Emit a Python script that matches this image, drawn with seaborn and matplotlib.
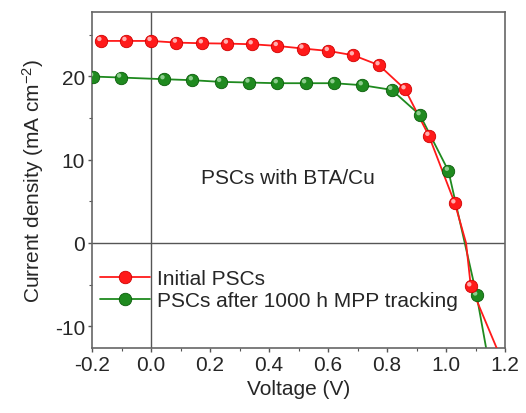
import matplotlib
matplotlib.use("Agg")
import matplotlib.pyplot as plt
import matplotlib.transforms as mtrans
from matplotlib.lines import Line2D
import seaborn as sns
import numpy as np

# ---- data ----
red_v = [-0.17, -0.085, 0.0, 0.086, 0.174, 0.259, 0.343, 0.428, 0.515, 0.601,
         0.686, 0.773, 0.861, 0.942, 1.03, 1.084]
red_j = [24.23, 24.23, 24.23, 24.03, 23.95, 23.91, 23.83, 23.63, 23.32, 23.03,
         22.51, 21.32, 18.44, 12.85, 4.75, -5.2]
red_line_v = red_v[:15] + [1.068] + red_v[15:] + [1.18]
red_line_j = red_j[:15] + [0.0] + red_j[15:] + [-13.3]

green_v = [-0.198, -0.103, 0.044, 0.14, 0.236, 0.332, 0.428, 0.524, 0.62, 0.716,
           0.816, 0.912, 1.008, 1.104]
green_j = [19.96, 19.84, 19.64, 19.52, 19.32, 19.24, 19.16, 19.16, 19.16, 18.92,
           18.36, 15.33, 8.66, -6.3]
green_line_v = green_v + [1.14]
green_line_j = green_j + [-13.4]

labels = ["Initial PSCs", "PSCs after 1000 h MPP tracking"]
annotation = "PSCs with BTA/Cu"
xticks = [-0.2, 0.0, 0.2, 0.4, 0.6, 0.8, 1.0, 1.2]
yticks = [-10, 0, 10, 20]

sns.set_style("ticks")
plt.rcParams["font.family"] = ["Liberation Sans", "DejaVu Sans"]
plt.rcParams["mathtext.fontset"] = "custom"
plt.rcParams["mathtext.rm"] = "Liberation Sans"
plt.rcParams["mathtext.it"] = "Liberation Sans"
plt.rcParams["axes.unicode_minus"] = False

FS = 15
fig = plt.figure(figsize=(5.26, 4.14), dpi=100)
ax = fig.add_axes([92 / 526, 1 - 349 / 414, 413 / 526, 336 / 414])

RED, RED_DARK, RED_HI = "#ff1a1a", "#d00000", "#ffc0c0"
GRN, GRN_DARK, GRN_HI = "#1f8a1f", "#0a5c0a", "#9ad49a"

ax.axhline(0, color="#555555", lw=1.0, zorder=1)
ax.axvline(0, color="#555555", lw=1.0, zorder=1)

sns.lineplot(x=red_line_v, y=red_line_j, sort=False, color=RED, lw=1.3, ax=ax, zorder=3)
sns.lineplot(x=green_line_v, y=green_line_j, sort=False, color=GRN, lw=1.3, ax=ax, zorder=2)

ms = 80
sns.scatterplot(x=green_v, y=green_j, color=GRN, edgecolor=GRN_DARK, linewidth=0.6,
                s=ms, ax=ax, zorder=4)
sns.scatterplot(x=red_v, y=red_j, color=RED, edgecolor=RED_DARK, linewidth=0.6,
                s=ms, ax=ax, zorder=5)
off = mtrans.offset_copy(ax.transData, fig=fig, x=-1.5, y=2, units="dots")
ax.scatter(green_v, green_j, s=10, color=GRN_HI, edgecolor="none", transform=off,
           zorder=4.5, alpha=0.9)
ax.scatter(red_v, red_j, s=10, color=RED_HI, edgecolor="none", transform=off,
           zorder=5.5, alpha=0.9)

ax.set_xlim(-0.2, 1.2)
ax.set_ylim(-12.6, 27.7)
ax.set_xticks(xticks)
ax.set_xticklabels([f"{t:.1f}" for t in xticks])
ax.set_yticks(yticks)
ax.set_xticks(np.arange(-0.1, 1.2, 0.2), minor=True)
ax.set_yticks([-5, 5, 15, 25], minor=True)
ax.tick_params(axis="both", which="major", direction="out", length=3, width=1,
               color="#555555", labelsize=FS, pad=2)
ax.tick_params(axis="both", which="minor", direction="out", length=2, width=0.8,
               color="#555555")
for s in ax.spines.values():
    s.set_color("#666666")
    s.set_linewidth(1.2)

ax.set_xlabel("Voltage (V)", fontsize=FS, labelpad=4)
ax.set_ylabel(r"Current density (mA cm$^{-2}$)", fontsize=FS, labelpad=6)

ax.text(0.463, 7.9, annotation, fontsize=FS, ha="center", va="center")

handles = [
    Line2D([], [], color=RED, lw=1.3, marker="o", markersize=9,
           markerfacecolor=RED, markeredgecolor=RED_DARK, markeredgewidth=0.6),
    Line2D([], [], color=GRN, lw=1.3, marker="o", markersize=9,
           markerfacecolor=GRN, markeredgecolor=GRN_DARK, markeredgewidth=0.6),
]
ax.legend(handles, labels, loc="upper left", bbox_to_anchor=(0.019, 0.235),
          frameon=False, fontsize=FS, handlelength=2.4, handletextpad=0.35,
          labelspacing=0.15, borderaxespad=0, borderpad=0)

fig.savefig("out.png", dpi=100)
